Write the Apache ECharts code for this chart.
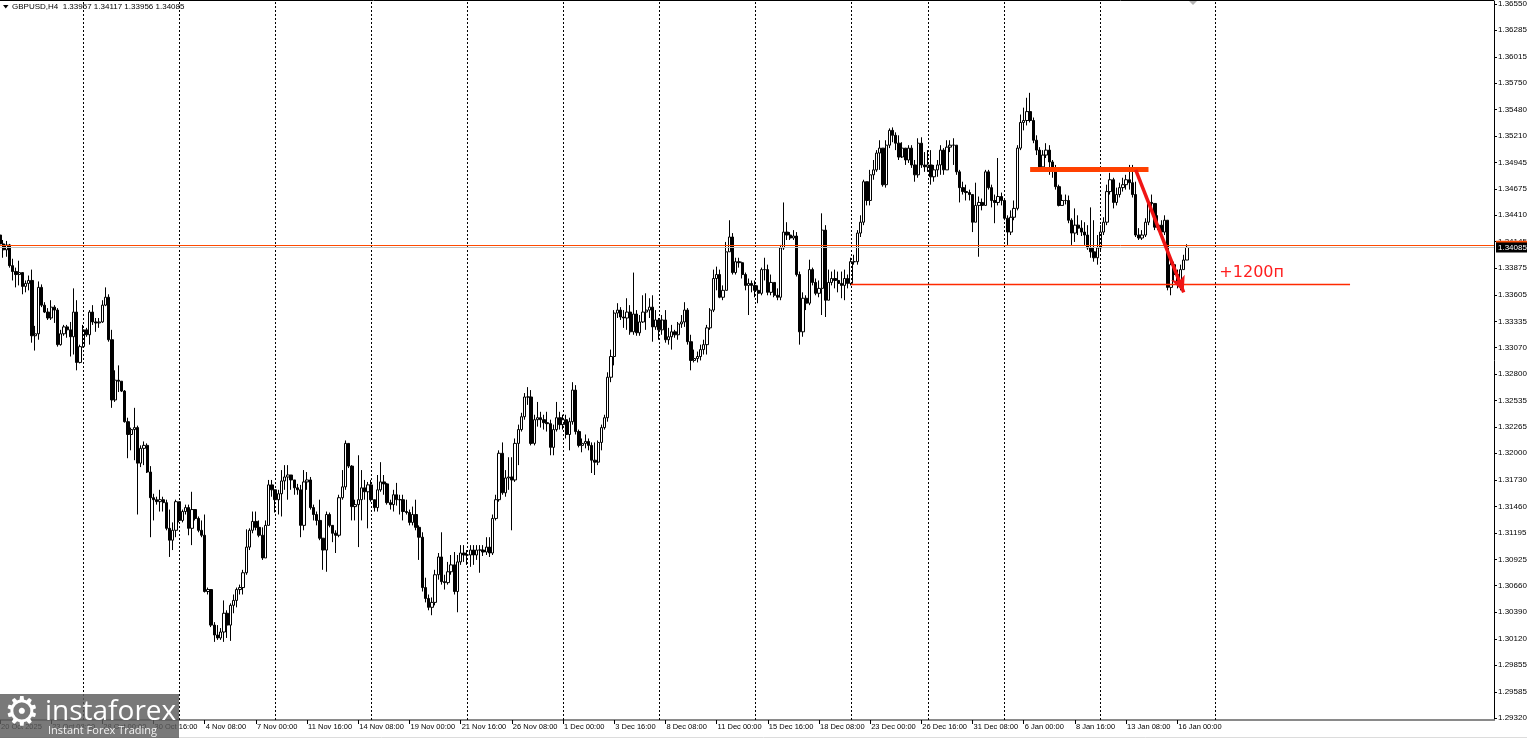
<!DOCTYPE html>
<html>
<head>
<meta charset="utf-8">
<title>GBPUSD,H4</title>
<script src="https://cdn.jsdelivr.net/npm/echarts@6/dist/echarts.min.js"></script>
<style>
  html, body { margin: 0; padding: 0; background: #fff; }
  #chart { width: 1527px; height: 739px; }
</style>
</head>
<body>
<div id="chart"></div>
<script>
// ---- data ----
const symbolName = 'GBPUSD,H4';
const firstBar = '2025-10-20T16:00:00Z';
const closedDays = ['2025-12-25', '2026-01-01'];
const firstOpen = 1.3421;

const closes = [
  1.3412,1.3406,1.3411,1.3390,1.3384,1.3381,1.3383,1.3369,1.3372,1.3375,
  1.3319,1.3321,1.3368,1.3350,1.3343,1.3337,1.3348,1.3345,1.3310,1.3321,
  1.3328,1.3325,1.3318,1.3343,1.3292,1.3308,1.3325,1.3320,1.3343,1.3333,
  1.3332,1.3333,1.3350,1.3358,1.3315,1.3254,1.3274,1.3273,1.3263,1.3232,
  1.3219,1.3224,1.3226,1.3190,1.3205,1.3208,1.3181,1.3155,1.3153,1.3151,
  1.3153,1.3150,1.3124,1.3112,1.3122,1.3151,1.3132,1.3141,1.3145,1.3124,
  1.3143,1.3134,1.3122,1.3117,1.3060,1.3062,1.3026,1.3016,1.3013,1.3019,
  1.3038,1.3026,1.3046,1.3051,1.3062,1.3064,1.3079,1.3105,1.3122,1.3131,
  1.3125,1.3117,1.3094,1.3127,1.3168,1.3163,1.3153,1.3159,1.3172,1.3176,
  1.3178,1.3173,1.3165,1.3163,1.3127,1.3171,1.3173,1.3145,1.3138,1.3132,
  1.3114,1.3102,1.3138,1.3127,1.3119,1.3117,1.3155,1.3166,1.3210,1.3187,
  1.3146,1.3148,1.3153,1.3165,1.3161,1.3168,1.3153,1.3145,1.3163,1.3171,
  1.3169,1.3150,1.3148,1.3158,1.3153,1.3153,1.3141,1.3140,1.3130,1.3138,
  1.3125,1.3115,1.3064,1.3053,1.3044,1.3049,1.3077,1.3095,1.3070,1.3069,
  1.3080,1.3087,1.3060,1.3090,1.3099,1.3097,1.3097,1.3102,1.3097,1.3102,
  1.3102,1.3100,1.3105,1.3099,1.3134,1.3153,1.3200,1.3160,1.3175,1.3176,
  1.3173,1.3210,1.3224,1.3237,1.3257,1.3257,1.3210,1.3234,1.3236,1.3234,
  1.3231,1.3230,1.3206,1.3224,1.3236,1.3229,1.3234,1.3219,1.3232,1.3264,
  1.3222,1.3208,1.3210,1.3212,1.3208,1.3193,1.3191,1.3211,1.3226,1.3236,
  1.3277,1.3298,1.3342,1.3345,1.3338,1.3337,1.3343,1.3323,1.3341,1.3322,
  1.3333,1.3343,1.3345,1.3348,1.3328,1.3335,1.3325,1.3335,1.3315,1.3318,
  1.3323,1.3320,1.3331,1.3333,1.3345,1.3313,1.3294,1.3296,1.3298,1.3305,
  1.3310,1.3327,1.3345,1.3377,1.3381,1.3358,1.3365,1.3404,1.3419,1.3383,
  1.3394,1.3393,1.3381,1.3370,1.3372,1.3370,1.3365,1.3362,1.3386,1.3386,
  1.3363,1.3373,1.3360,1.3358,1.3408,1.3424,1.3421,1.3418,1.3420,1.3381,
  1.3323,1.3357,1.3352,1.3386,1.3373,1.3362,1.3367,1.3426,1.3355,1.3373,
  1.3377,1.3375,1.3372,1.3370,1.3377,1.3372,1.3394,1.3394,1.3423,1.3434,
  1.3475,1.3456,1.3482,1.3487,1.3504,1.3509,1.3472,1.3512,1.3527,1.3522,
  1.3514,1.3500,1.3509,1.3497,1.3509,1.3492,1.3482,1.3514,1.3492,1.3490,
  1.3492,1.3480,1.3487,1.3492,1.3507,1.3487,1.3510,1.3512,1.3512,1.3485,
  1.3469,1.3465,1.3464,1.3462,1.3434,1.3451,1.3454,1.3451,1.3485,1.3469,
  1.3456,1.3454,1.3460,1.3456,1.3438,1.3424,1.3439,1.3448,1.3509,1.3535,
  1.3537,1.3546,1.3537,1.3517,1.3507,1.3490,1.3502,1.3507,1.3495,1.3487,
  1.3470,1.3451,1.3456,1.3456,1.3436,1.3423,1.3431,1.3428,1.3424,1.3421,
  1.3408,1.3404,1.3398,1.3408,1.3424,1.3434,1.3465,1.3477,1.3454,1.3462,
  1.3469,1.3472,1.3477,1.3474,1.3462,1.3421,1.3418,1.3421,1.3434,1.3454,
  1.3453,1.3429,1.3431,1.3424,1.3436,1.3368,1.3391,1.3381,1.3373,1.3386,
  1.33957,1.34085
];

const highs = [
  1.3425,1.3416,1.3415,1.3412,1.3397,1.3388,1.3395,1.3375,1.3375,1.3380,
  1.3386,1.3329,1.3374,1.3371,1.3353,1.3347,1.3355,1.3350,1.3347,1.3325,
  1.3330,1.3330,1.3333,1.3367,1.3355,1.3310,1.3330,1.3327,1.3345,1.3350,
  1.3337,1.3337,1.3355,1.3368,1.3361,1.3325,1.3284,1.3289,1.3273,1.3264,
  1.3236,1.3226,1.3246,1.3228,1.3208,1.3212,1.3210,1.3187,1.3159,1.3156,
  1.3163,1.3156,1.3153,1.3143,1.3130,1.3153,1.3149,1.3143,1.3148,1.3148,
  1.3161,1.3143,1.3136,1.3132,1.3138,1.3064,1.3059,1.3029,1.3026,1.3023,
  1.3051,1.3041,1.3048,1.3057,1.3064,1.3067,1.3082,1.3123,1.3124,1.3141,
  1.3141,1.3132,1.3125,1.3132,1.3173,1.3173,1.3158,1.3163,1.3183,1.3188,
  1.3188,1.3178,1.3173,1.3169,1.3168,1.3183,1.3181,1.3176,1.3148,1.3141,
  1.3153,1.3114,1.3141,1.3140,1.3127,1.3122,1.3158,1.3183,1.3213,1.3210,
  1.3188,1.3153,1.3198,1.3183,1.3173,1.3171,1.3173,1.3153,1.3178,1.3191,
  1.3178,1.3170,1.3153,1.3163,1.3170,1.3158,1.3158,1.3153,1.3143,1.3146,
  1.3153,1.3127,1.3120,1.3074,1.3057,1.3054,1.3082,1.3099,1.3120,1.3077,
  1.3090,1.3097,1.3100,1.3097,1.3107,1.3107,1.3102,1.3107,1.3107,1.3107,
  1.3107,1.3107,1.3115,1.3115,1.3138,1.3158,1.3203,1.3211,1.3183,1.3196,
  1.3196,1.3215,1.3229,1.3241,1.3261,1.3267,1.3264,1.3239,1.3252,1.3242,
  1.3239,1.3242,1.3234,1.3229,1.3252,1.3242,1.3239,1.3239,1.3236,1.3272,
  1.3269,1.3224,1.3215,1.3219,1.3215,1.3211,1.3211,1.3213,1.3229,1.3239,
  1.3282,1.3305,1.3345,1.3352,1.3348,1.3345,1.3357,1.3350,1.3383,1.3345,
  1.3340,1.3360,1.3362,1.3357,1.3360,1.3345,1.3337,1.3340,1.3345,1.3327,
  1.3330,1.3325,1.3333,1.3340,1.3353,1.3347,1.3320,1.3305,1.3303,1.3310,
  1.3315,1.3330,1.3347,1.3386,1.3389,1.3386,1.3370,1.3414,1.3436,1.3423,
  1.3398,1.3398,1.3394,1.3383,1.3377,1.3375,1.3375,1.3370,1.3388,1.3398,
  1.3391,1.3381,1.3373,1.3367,1.3411,1.3454,1.3434,1.3424,1.3426,1.3424,
  1.3384,1.3363,1.3360,1.3396,1.3388,1.3377,1.3375,1.3443,1.3431,1.3386,
  1.3384,1.3386,1.3384,1.3384,1.3386,1.3381,1.3398,1.3401,1.3426,1.3441,
  1.3477,1.3469,1.3487,1.3497,1.3507,1.3517,1.3505,1.3517,1.3529,1.3530,
  1.3525,1.3522,1.3515,1.3507,1.3512,1.3512,1.3497,1.3519,1.3520,1.3505,
  1.3507,1.3507,1.3492,1.3497,1.3512,1.3509,1.3517,1.3517,1.3519,1.3512,
  1.3487,1.3475,1.3472,1.3467,1.3462,1.3474,1.3460,1.3458,1.3487,1.3487,
  1.3472,1.3462,1.3499,1.3464,1.3448,1.3441,1.3446,1.3456,1.3512,1.3543,
  1.3550,1.3560,1.3565,1.3540,1.3522,1.3510,1.3507,1.3514,1.3512,1.3497,
  1.3492,1.3472,1.3462,1.3462,1.3461,1.3438,1.3448,1.3441,1.3436,1.3434,
  1.3431,1.3449,1.3436,1.3421,1.3431,1.3439,1.3472,1.3484,1.3479,1.3469,
  1.3474,1.3479,1.3482,1.3492,1.3492,1.3475,1.3428,1.3426,1.3438,1.3456,
  1.3462,1.3451,1.3441,1.3436,1.3441,1.3436,1.3394,1.3394,1.3386,1.3391,
  1.3401,1.34117
];

const lows = [
  1.3406,1.3398,1.3399,1.3388,1.3375,1.3368,1.3370,1.3361,1.3363,1.3365,
  1.3312,1.3304,1.3315,1.3348,1.3342,1.3335,1.3335,1.3332,1.3308,1.3309,
  1.3319,1.3317,1.3298,1.3300,1.3284,1.3291,1.3307,1.3318,1.3310,1.3330,
  1.3323,1.3327,1.3332,1.3349,1.3313,1.3246,1.3252,1.3262,1.3262,1.3231,
  1.3195,1.3203,1.3193,1.3138,1.3186,1.3188,1.3180,1.3115,1.3132,1.3148,
  1.3141,1.3141,1.3122,1.3095,1.3102,1.3115,1.3130,1.3130,1.3138,1.3117,
  1.3107,1.3132,1.3120,1.3115,1.3059,1.3057,1.3024,1.3009,1.3011,1.3011,
  1.3009,1.3013,1.3010,1.3038,1.3044,1.3057,1.3057,1.3077,1.3102,1.3119,
  1.3122,1.3115,1.3092,1.3094,1.3127,1.3156,1.3140,1.3138,1.3136,1.3163,
  1.3153,1.3163,1.3158,1.3158,1.3115,1.3122,1.3163,1.3143,1.3132,1.3127,
  1.3112,1.3082,1.3080,1.3125,1.3110,1.3099,1.3115,1.3153,1.3163,1.3185,
  1.3132,1.3132,1.3105,1.3132,1.3153,1.3124,1.3151,1.3141,1.3141,1.3161,
  1.3158,1.3148,1.3143,1.3141,1.3147,1.3138,1.3132,1.3138,1.3127,1.3127,
  1.3122,1.3092,1.3060,1.3049,1.3041,1.3036,1.3046,1.3072,1.3067,1.3062,
  1.3067,1.3077,1.3057,1.3039,1.3087,1.3090,1.3087,1.3085,1.3087,1.3092,
  1.3079,1.3096,1.3097,1.3095,1.3097,1.3132,1.3151,1.3158,1.3156,1.3163,
  1.3122,1.3171,1.3188,1.3222,1.3234,1.3249,1.3208,1.3208,1.3227,1.3226,
  1.3224,1.3222,1.3198,1.3198,1.3222,1.3224,1.3224,1.3215,1.3203,1.3229,
  1.3219,1.3206,1.3201,1.3205,1.3203,1.3180,1.3178,1.3188,1.3203,1.3224,
  1.3232,1.3272,1.3289,1.3337,1.3335,1.3327,1.3325,1.3320,1.3320,1.3319,
  1.3319,1.3332,1.3325,1.3337,1.3313,1.3325,1.3315,1.3320,1.3312,1.3310,
  1.3305,1.3317,1.3315,1.3327,1.3328,1.3310,1.3284,1.3292,1.3292,1.3294,
  1.3300,1.3300,1.3325,1.3343,1.3365,1.3357,1.3355,1.3365,1.3404,1.3381,
  1.3381,1.3388,1.3377,1.3365,1.3340,1.3363,1.3358,1.3352,1.3360,1.3375,
  1.3360,1.3360,1.3358,1.3355,1.3355,1.3406,1.3416,1.3416,1.3416,1.3379,
  1.3310,1.3318,1.3345,1.3350,1.3370,1.3360,1.3358,1.3340,1.3338,1.3368,
  1.3370,1.3367,1.3363,1.3357,1.3355,1.3367,1.3370,1.3391,1.3391,1.3419,
  1.3431,1.3451,1.3451,1.3477,1.3485,1.3487,1.3470,1.3469,1.3509,1.3515,
  1.3507,1.3497,1.3499,1.3492,1.3494,1.3489,1.3475,1.3479,1.3489,1.3485,
  1.3485,1.3472,1.3475,1.3480,1.3482,1.3482,1.3505,1.3505,1.3492,1.3482,
  1.3454,1.3462,1.3456,1.3456,1.3424,1.3434,1.3399,1.3446,1.3451,1.3467,
  1.3449,1.3433,1.3451,1.3451,1.3436,1.3411,1.3421,1.3436,1.3446,1.3507,
  1.3527,1.3532,1.3535,1.3514,1.3502,1.3487,1.3489,1.3499,1.3482,1.3479,
  1.3467,1.3450,1.3451,1.3452,1.3433,1.3411,1.3414,1.3421,1.3420,1.3411,
  1.3406,1.3398,1.3394,1.3391,1.3404,1.3421,1.3431,1.3462,1.3448,1.3451,
  1.3459,1.3465,1.3467,1.3467,1.3459,1.3419,1.3416,1.3416,1.3419,1.3431,
  1.3443,1.3426,1.3426,1.3419,1.3421,1.3365,1.3360,1.3374,1.3367,1.3365,
  1.3386,1.33956
];

const yTicks = [
  1.29320, 1.29585, 1.29855, 1.30120, 1.30390, 1.30660, 1.30925, 1.31195,
  1.31460, 1.31730, 1.32000, 1.32265, 1.32535, 1.32800, 1.33070, 1.33335,
  1.33605, 1.33875, 1.34145, 1.34410, 1.34675, 1.34945, 1.35210, 1.35480,
  1.35750, 1.36015, 1.36285, 1.36550
];

const xTickLabels = [
  '20 Oct 2025', '23 Oct 08:00', '28 Oct 00:00', '30 Oct 16:00', '4 Nov 08:00',
  '7 Nov 00:00', '11 Nov 16:00', '14 Nov 08:00', '19 Nov 00:00', '21 Nov 16:00',
  '26 Nov 08:00', '1 Dec 00:00', '3 Dec 16:00', '8 Dec 08:00', '11 Dec 00:00',
  '15 Dec 16:00', '18 Dec 08:00', '23 Dec 00:00', '26 Dec 16:00', '31 Dec 08:00',
  '6 Jan 00:00', '8 Jan 16:00', '13 Jan 08:00', '16 Jan 00:00'
];

const askPrice = 1.34102;
const resistance = { from: '6 Jan 08:00', to: '14 Jan 12:00', price: 1.3488 };
const target = { from: '22 Dec 00:00', to: '25 Jan 00:00', price: 1.3371 };
const moveArrow = { from: ['13 Jan 20:00', 1.3487], to: ['16 Jan 08:00', 1.3363] };
const note = { at: ['18 Jan 04:00', 1.3383], text: '+1200п' };

// ---- time scale ----
const SLOTS = 468;              // bar slots across the plot, incl. the empty shift area
const H4 = 4 * 3600 * 1000;
const DAY = 24 * 3600 * 1000;
const MON = ['Jan','Feb','Mar','Apr','May','Jun','Jul','Aug','Sep','Oct','Nov','Dec'];
const pad = n => (n < 10 ? '0' : '') + n;
const fmt = t => {
  const d = new Date(t);
  return d.getUTCDate() + ' ' + MON[d.getUTCMonth()] + ' ' + pad(d.getUTCHours()) + ':00';
};

const times = [];
let t = Date.parse(firstBar);
while (times.length < closes.length) {
  const d = new Date(t);
  const wd = d.getUTCDay();
  if (wd !== 0 && wd !== 6 && !closedDays.includes(d.toISOString().slice(0, 10))) times.push(t);
  t += H4;
}
// terminal extends the scale linearly past the last bar
let tf = times[times.length - 1];
while (times.length < SLOTS) { tf += H4; times.push(tf); }
const categories = times.map(fmt);

// weekly separators (week starts Sunday), only the first one past the last bar
const weekOf = ms => Math.floor((ms / DAY - 3) / 7);
const separators = [];
for (let i = 1; i < times.length; i++) {
  if (weekOf(times[i]) !== weekOf(times[i - 1])) {
    separators.push(categories[i]);
    if (i >= closes.length) break;
  }
}

const candles = closes.map((c, i) => {
  const o = i ? closes[i - 1] : firstOpen;
  return [o, c, Math.min(lows[i], o, c), Math.max(highs[i], o, c)];
});
const last = candles[candles.length - 1];
const bidPrice = last[1];

const labelSet = new Set(xTickLabels);
const showX = (i, v) => i === 0 || labelSet.has(v);
const FONT = 'Tahoma, "Liberation Sans", Arial, sans-serif';

const chart = echarts.init(document.getElementById('chart'), null, { renderer: 'canvas' });

chart.setOption({
  animation: false,
  backgroundColor: '#fff',
  grid: { left: 0, top: 1, width: 1494, height: 719, show: false, containLabel: false, outerBoundsMode: 'none' },
  xAxis: {
    type: 'category',
    data: categories,
    boundaryGap: false,
    axisLine: { show: true, lineStyle: { color: '#8a8a8a', width: 2 } },
    axisTick: { show: true, interval: showX, length: 4, lineStyle: { color: '#000' } },
    axisLabel: {
      interval: showX,
      formatter: (v, i) => (i === 0 ? xTickLabels[0] : v),
      align: 'left', margin: 3, padding: [0, 0, 0, 1],
      fontSize: 7.5, fontFamily: FONT, color: '#000'
    },
    splitLine: { show: false }
  },
  yAxis: {
    type: 'value',
    position: 'right',
    min: 1.29299, max: 1.36580,
    splitLine: { show: false },
    axisLine: { show: true, lineStyle: { color: '#000', width: 1 } },
    axisTick: { show: true, length: 3, customValues: yTicks, lineStyle: { color: '#000' } },
    axisLabel: {
      customValues: yTicks,
      formatter: v => v.toFixed(5),
      margin: 4, fontSize: 8, fontFamily: FONT, color: '#000'
    }
  },
  series: [
    {
      // week separators behind the candles
      type: 'line', data: [], z: 1, clip: false, silent: true,
      markLine: {
        silent: true, symbol: 'none', animation: false,
        label: { show: false },
        lineStyle: { color: '#000', width: 1, type: [2, 2] },
        data: separators.map(c => ({ xAxis: c }))
      }
    },
    {
      // bid / ask lines
      type: 'line', data: [], z: 1, clip: false, silent: true,
      markLine: {
        silent: true, symbol: 'none', animation: false, precision: 5,
        data: [
          {
            yAxis: askPrice,
            lineStyle: { color: '#ff4a00', width: 1, type: 'solid' },
            label: {
              show: true, position: 'end', distance: 2, formatter: askPrice.toFixed(5),
              backgroundColor: '#ff4a00', color: '#fff', padding: [1, 2, 1, 2],
              fontSize: 8, fontFamily: FONT
            }
          },
          {
            yAxis: bidPrice,
            lineStyle: { color: '#c0c0c0', width: 1, type: 'solid' },
            label: {
              show: true, position: 'end', distance: 2, formatter: bidPrice.toFixed(5),
              backgroundColor: '#000', color: '#fff', padding: [1, 2, 1, 2],
              fontSize: 8, fontFamily: FONT
            }
          }
        ]
      }
    },
    {
      type: 'candlestick',
      name: symbolName,
      data: candles,
      z: 2,
      barWidth: 2.8,
      large: false,
      itemStyle: {
        color: '#fff', color0: '#000',
        borderColor: '#000', borderColor0: '#000', borderWidth: 1
      }
    },
    {
      // hand-drawn objects
      type: 'line', data: [], z: 5, clip: false, silent: true,
      markLine: {
        silent: true, symbol: 'none', animation: false,
        label: { show: false },
        data: [
          [
            { coord: [resistance.from, resistance.price], lineStyle: { color: '#ff4000', width: 5, type: 'solid', cap: 'butt' } },
            { coord: [resistance.to, resistance.price] }
          ],
          [
            { coord: [target.from, target.price], lineStyle: { color: '#ff2a00', width: 1.3, type: 'solid' } },
            { coord: [target.to, target.price] }
          ],
          [
            { coord: moveArrow.from, symbol: 'none', lineStyle: { color: '#f01414', width: 3.5, type: 'solid' } },
            { coord: moveArrow.to, symbol: 'arrow', symbolSize: [11, 16] }
          ]
        ]
      },
      markPoint: {
        silent: true, animation: false,
        symbol: 'rect', symbolSize: 1,
        itemStyle: { color: 'rgba(0,0,0,0)' },
        label: {
          show: true, position: 'right', distance: 0,
          formatter: note.text, color: '#ff1e1e',
          fontSize: 16, fontFamily: '"DejaVu Sans", sans-serif'
        },
        data: [{ coord: note.at }]
      }
    }
  ],
  graphic: [
    // top frame edge
    { type: 'line', z: 40, shape: { x1: 0, y1: 0.5, x2: 1494, y2: 0.5 }, style: { stroke: '#000', lineWidth: 1 } },
    // chart header
    { type: 'polygon', z: 50, shape: { points: [[3, 5], [8.5, 5], [5.75, 8.5]] }, style: { fill: '#000' } },
    {
      type: 'text', z: 50,
      style: {
        x: 12, y: 7, textVerticalAlign: 'middle',
        text: symbolName + '  ' + [last[0], last[3], last[2], last[1]].map(v => v.toFixed(5)).join(' '),
        font: '8px ' + FONT, fill: '#000'
      }
    },
    // chart shift marker
    { type: 'polygon', z: 50, shape: { points: [[1189, 1], [1197, 1], [1193, 5]] }, style: { fill: '#b4b4b4' } },
    // window bottom edge
    { type: 'line', z: 40, shape: { x1: 0, y1: 737.5, x2: 1527, y2: 737.5 }, style: { stroke: '#dcdcdc', lineWidth: 1 } },
    // watermark
    { type: 'rect', z: 60, shape: { x: 0, y: 694, width: 179, height: 44 }, style: { fill: 'rgba(92,92,92,0.82)' } },
    {
      type: 'text', z: 61,
      style: { x: 22, y: 715, textAlign: 'center', textVerticalAlign: 'middle', text: '\u2699', font: '40px "DejaVu Sans"', fill: '#fff' }
    },
    {
      type: 'text', z: 61,
      style: { x: 45, y: 712, textVerticalAlign: 'middle', text: 'instaforex', font: '28px "Open Sans", sans-serif', fill: '#fff' }
    },
    {
      type: 'text', z: 61,
      style: { x: 48, y: 731, textVerticalAlign: 'middle', text: 'Instant Forex Trading', font: '11px "Open Sans", sans-serif', fill: 'rgba(255,255,255,0.9)' }
    }
  ]
});
</script>
</body>
</html>
